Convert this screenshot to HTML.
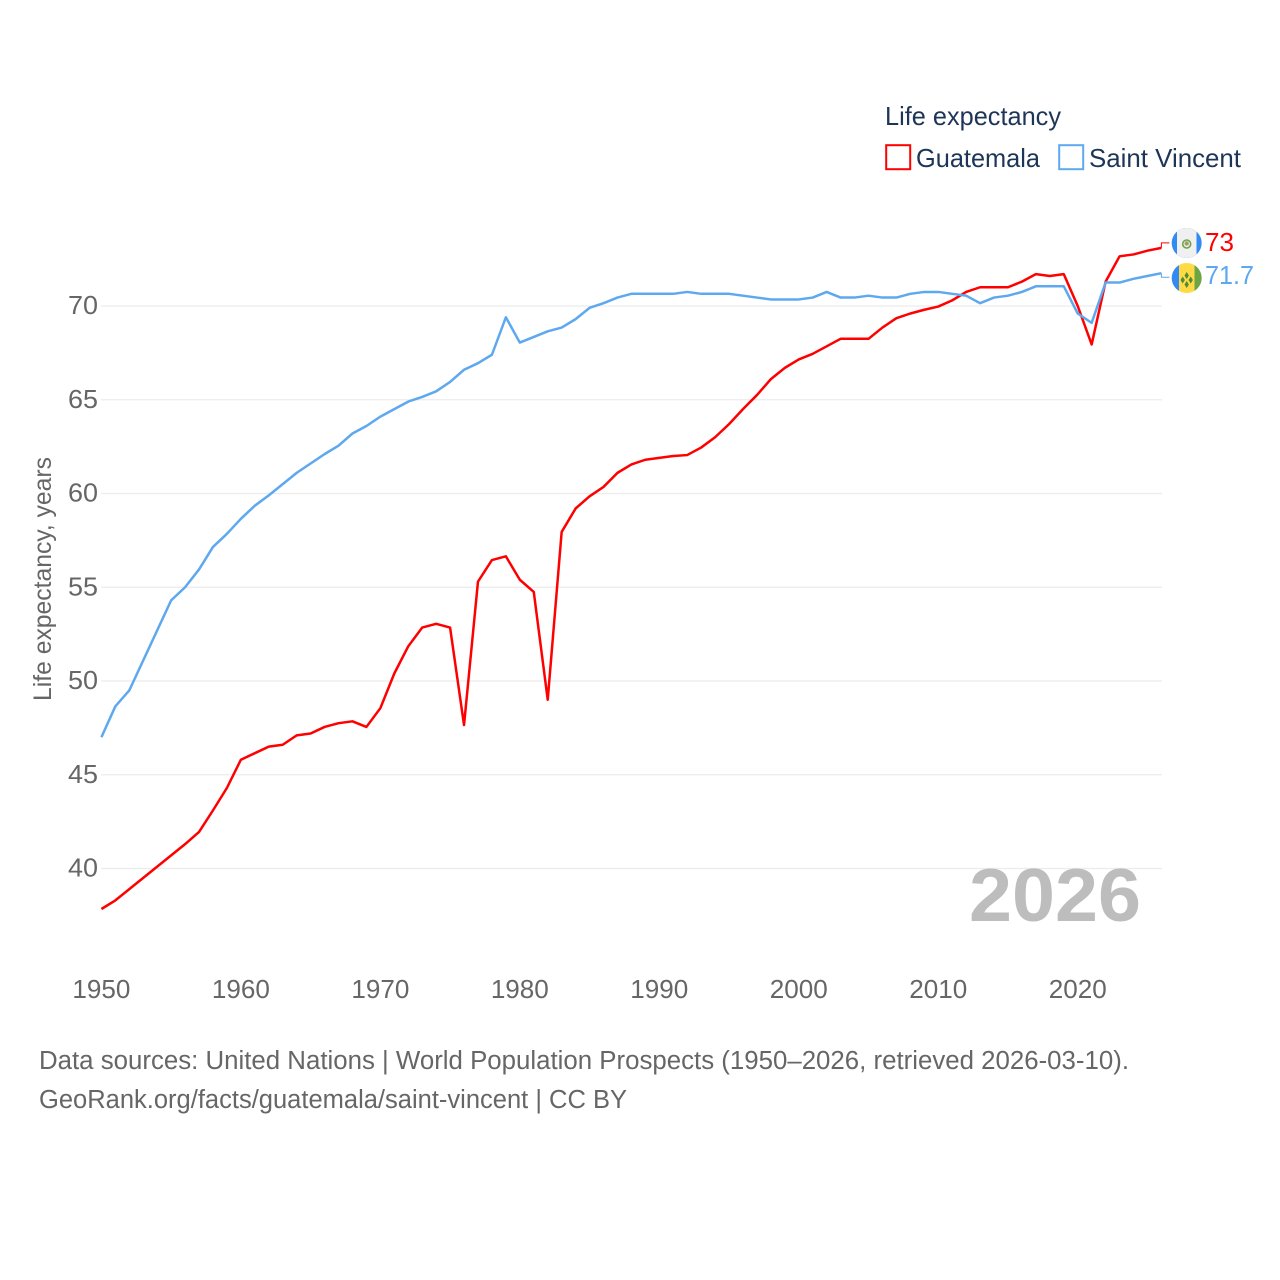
<!DOCTYPE html>
<html lang="en">
<head>
<meta charset="utf-8">
<title>Life expectancy: Guatemala and Saint Vincent</title>
<style>
html,body{margin:0;padding:0;background:#fff;}
svg{display:block;font-family:"Liberation Sans",sans-serif;}
</style>
</head>
<body>
<svg id="chart" xmlns="http://www.w3.org/2000/svg" width="1280" height="1280" viewBox="0 0 1280 1280">
  <defs>
    <clipPath id="clip-gt"><circle cx="1186.7" cy="243" r="15"/></clipPath>
    <clipPath id="clip-vc"><circle cx="1186.7" cy="278" r="15"/></clipPath>
  </defs>
  <rect x="0" y="0" width="1280" height="1280" fill="#fff"/>
  <g id="grid"></g>
  <g id="y-ticks"></g>
  <g id="x-ticks"></g>
  <g id="series"></g>

  <text transform="translate(51,701) rotate(-90)" font-size="25" fill="#666" textLength="244" lengthAdjust="spacingAndGlyphs">Life expectancy, years</text>

  <text x="885" y="125" font-size="26" fill="#1d3557" textLength="176" lengthAdjust="spacingAndGlyphs">Life expectancy</text>
  <g>
    <rect x="886.2" y="145.2" width="24" height="24" fill="#fff" stroke="#ff0000" stroke-width="2"/>
    <text x="916" y="167" font-size="26" fill="#1d3557" textLength="124" lengthAdjust="spacingAndGlyphs">Guatemala</text>
  </g>
  <g>
    <rect x="1059.2" y="145.2" width="24" height="24" fill="#fff" stroke="#5ea8f0" stroke-width="2"/>
    <text x="1089" y="167" font-size="26" fill="#1d3557" textLength="152" lengthAdjust="spacingAndGlyphs">Saint Vincent</text>
  </g>

  <text x="969" y="921" font-size="75" font-weight="bold" fill="#bdbdbd" textLength="172" lengthAdjust="spacingAndGlyphs">2026</text>

  <g clip-path="url(#clip-gt)">
    <rect x="1171" y="228" width="32" height="30" fill="#338af3"/>
    <rect x="1177" y="228" width="19.5" height="30" fill="#f0f0f0"/>
    <circle cx="1186.7" cy="244" r="4" fill="none" stroke="#6da544" stroke-width="1.6"/>
    <circle cx="1186.7" cy="243.5" r="2.2" fill="#a89a70"/>
  </g>
  <g clip-path="url(#clip-vc)">
    <rect x="1171" y="263" width="8" height="30" fill="#338af3"/>
    <rect x="1179" y="263" width="15.5" height="30" fill="#ffda44"/>
    <rect x="1194.5" y="263" width="9" height="30" fill="#6da544"/>
    <path d="M1186.7 272l2.2 3.5-2.2 3.5-2.2-3.5zM1182.7 276.5l2.2 3.5-2.2 3.5-2.2-3.5zM1190.7 276.5l2.2 3.5-2.2 3.5-2.2-3.5zM1186.7 281l2.2 3.5-2.2 3.5-2.2-3.5z" fill="#4f8a3a"/>
  </g>

  <text x="1205" y="251" font-size="26" fill="#ff0000" textLength="29" lengthAdjust="spacingAndGlyphs">73</text>
  <text x="1205" y="284" font-size="26" fill="#5ea8f0" textLength="49" lengthAdjust="spacingAndGlyphs">71.7</text>

  <text x="39" y="1069" font-size="25.5" fill="#666" textLength="1090" lengthAdjust="spacingAndGlyphs">Data sources: United Nations | World Population Prospects (1950–2026, retrieved 2026-03-10).</text>
  <text x="39" y="1108" font-size="25.5" fill="#666" textLength="588" lengthAdjust="spacingAndGlyphs">GeoRank.org/facts/guatemala/saint-vincent | CC BY</text>
</svg>
<script>
const startYear = 1950;
const endYear = 2026;
const yTicks = [40, 45, 50, 55, 60, 65, 70];
const xTicks = [1950, 1960, 1970, 1980, 1990, 2000, 2010, 2020];
const guatemala = [
  37.84, 38.3, 38.9, 39.5, 40.1, 40.7, 41.3, 41.95, 43.1, 44.3,
  45.8, 46.15, 46.5, 46.6, 47.1, 47.2, 47.55, 47.75, 47.85, 47.55,
  48.55, 50.4, 51.85, 52.85, 53.05, 52.85, 47.65, 55.3, 56.45, 56.65,
  55.4, 54.75, 49, 57.95, 59.2, 59.85, 60.35, 61.1, 61.55, 61.8,
  61.9, 62, 62.05, 62.45, 63, 63.7, 64.5, 65.25, 66.1, 66.7,
  67.15, 67.45, 67.85, 68.25, 68.25, 68.25, 68.85, 69.35, 69.6, 69.8,
  69.97, 70.3, 70.75, 71, 71, 71, 71.3, 71.7, 71.6, 71.7,
  70, 67.95, 71.3, 72.65, 72.75, 72.95, 73.1
];
const saintVincent = [
  47, 48.65, 49.5, 51.1, 52.7, 54.3, 55, 55.95, 57.15, 57.85,
  58.65, 59.35, 59.9, 60.5, 61.1, 61.6, 62.1, 62.55, 63.2, 63.6,
  64.1, 64.5, 64.9, 65.15, 65.45, 65.95, 66.6, 66.95, 67.4, 69.4,
  68.05, 68.35, 68.65, 68.85, 69.3, 69.9, 70.15, 70.45, 70.65, 70.65,
  70.65, 70.65, 70.75, 70.65, 70.65, 70.65, 70.55, 70.45, 70.35, 70.35,
  70.35, 70.45, 70.75, 70.45, 70.45, 70.55, 70.45, 70.45, 70.65, 70.75,
  70.75, 70.65, 70.55, 70.15, 70.45, 70.55, 70.75, 71.05, 71.05, 71.05,
  69.6, 69.1, 71.25, 71.25, 71.45, 71.6, 71.75
];

const SVG_NS = 'http://www.w3.org/2000/svg';
function xScale(year) { return 101.4 + (year - 1950) * (1060 / 76); }
function yScale(value) { return 306 + (70 - value) * 18.75; }

const gridLayer = document.getElementById('grid');
const yTickLayer = document.getElementById('y-ticks');
const xTickLayer = document.getElementById('x-ticks');
const seriesLayer = document.getElementById('series');

yTicks.forEach(function (tick) {
  const line = document.createElementNS(SVG_NS, 'line');
  
  
  line.setAttribute('x1', 101);
  line.setAttribute('x2', 1162);
  line.setAttribute('y1', yScale(tick));
  line.setAttribute('y2', yScale(tick));
  line.setAttribute('stroke', '#ececec');
  line.setAttribute('stroke-width', 1.3);
  gridLayer.appendChild(line);

  const label = document.createElementNS(SVG_NS, 'text');
  
  
  label.setAttribute('x', 98);
  label.setAttribute('y', yScale(tick) + 8);
  label.setAttribute('text-anchor', 'end');
  label.setAttribute('font-size', 26);
  label.setAttribute('fill', '#666');
  label.setAttribute('textLength', 30);
  label.setAttribute('lengthAdjust', 'spacingAndGlyphs');
  label.textContent = tick;
  yTickLayer.appendChild(label);
});

xTicks.forEach(function (tick) {
  const label = document.createElementNS(SVG_NS, 'text');
  
  
  label.setAttribute('x', xScale(tick));
  label.setAttribute('y', 998);
  label.setAttribute('text-anchor', 'middle');
  label.setAttribute('font-size', 26);
  label.setAttribute('fill', '#666');
  label.setAttribute('textLength', 58);
  label.setAttribute('lengthAdjust', 'spacingAndGlyphs');
  label.textContent = tick;
  xTickLayer.appendChild(label);
});

function pathFor(values) {
  return values.map(function (value, i) {
    return (i ? 'L' : 'M') + xScale(startYear + i).toFixed(2) + ' ' + yScale(value).toFixed(2);
  }).join(' ');
}

function connectorFor(values, labelOffset) {
  const x = xScale(endYear);
  const y = yScale(values[values.length - 1]);
  return 'M' + x + ' ' + y + ' V' + (y + labelOffset) + ' H' + (x + 8);
}

const guatemalaLine = document.createElementNS(SVG_NS, 'path');


guatemalaLine.setAttribute('d', pathFor(guatemala));
guatemalaLine.setAttribute('fill', 'none');
guatemalaLine.setAttribute('stroke', '#ff0000');
guatemalaLine.setAttribute('stroke-width', 2.5);
guatemalaLine.setAttribute('stroke-linejoin', 'round');

const saintVincentLine = document.createElementNS(SVG_NS, 'path');


saintVincentLine.setAttribute('d', pathFor(saintVincent));
saintVincentLine.setAttribute('fill', 'none');
saintVincentLine.setAttribute('stroke', '#5ea8f0');
saintVincentLine.setAttribute('stroke-width', 2.5);
saintVincentLine.setAttribute('stroke-linejoin', 'round');

const guatemalaConnector = document.createElementNS(SVG_NS, 'path');


guatemalaConnector.setAttribute('d', connectorFor(guatemala, -5));
guatemalaConnector.setAttribute('fill', 'none');
guatemalaConnector.setAttribute('stroke', '#ff0000');
guatemalaConnector.setAttribute('stroke-width', 1);

const saintVincentConnector = document.createElementNS(SVG_NS, 'path');


saintVincentConnector.setAttribute('d', connectorFor(saintVincent, 4));
saintVincentConnector.setAttribute('fill', 'none');
saintVincentConnector.setAttribute('stroke', '#5ea8f0');
saintVincentConnector.setAttribute('stroke-width', 1);

seriesLayer.appendChild(saintVincentConnector);
seriesLayer.appendChild(guatemalaConnector);
seriesLayer.appendChild(guatemalaLine);
seriesLayer.appendChild(saintVincentLine);
</script>
</body>
</html>
